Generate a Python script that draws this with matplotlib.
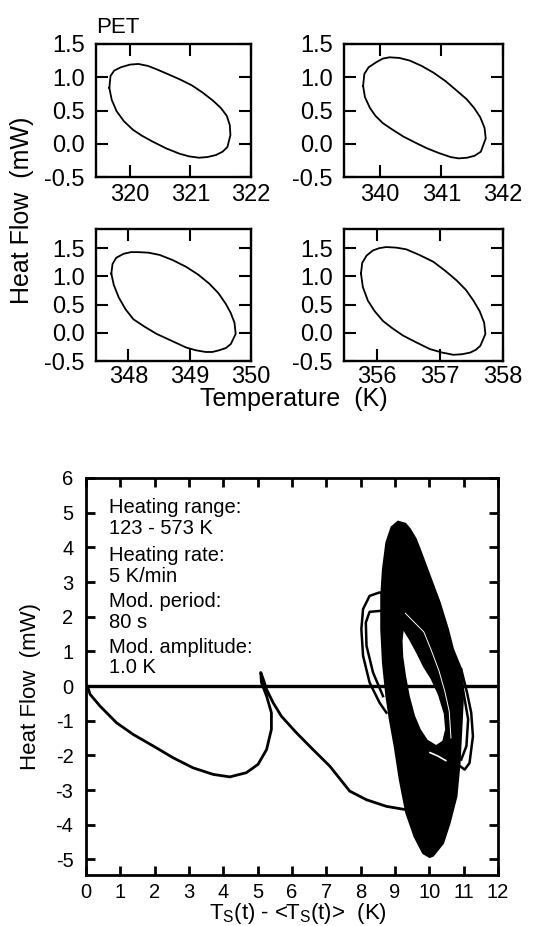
import matplotlib
matplotlib.use("Agg")
import matplotlib.pyplot as plt

plt.rcParams['font.family'] = ['Liberation Sans', 'DejaVu Sans']
plt.rcParams['axes.unicode_minus'] = False
plt.rcParams['mathtext.fontset'] = 'custom'
plt.rcParams['mathtext.rm'] = 'Liberation Sans'
plt.rcParams['mathtext.default'] = 'regular'

# ---- top: Lissajous loops at four temperatures (PET) ----
xlims = [(319.44, 322), (339.42, 342), (347.47, 350), (355.47, 358)]
xticks = [[320, 321, 322], [340, 341, 342], [348, 349, 350], [356, 357, 358]]
yticks = [-0.5, 0.0, 0.5, 1.0, 1.5]

loop1_x = [319.66, 319.68, 319.74, 319.85, 320.00, 320.14, 320.30, 320.44, 320.62, 320.82, 321.02, 321.20,
           321.37, 321.50, 321.60, 321.65, 321.66, 321.61, 321.53, 321.42, 321.28, 321.14, 320.98, 320.82,
           320.60, 320.38, 320.20, 320.05, 319.90, 319.78, 319.70, 319.66]
loop1_y = [0.84, 1.02, 1.10, 1.15, 1.19, 1.20, 1.17, 1.12, 1.05, 0.97, 0.88, 0.77,
           0.65, 0.54, 0.42, 0.28, 0.13, -0.05, -0.12, -0.17, -0.20, -0.21, -0.19, -0.15,
           -0.07, 0.03, 0.12, 0.21, 0.34, 0.49, 0.66, 0.84]

loop2_x = [339.73, 339.75, 339.82, 339.95, 340.05, 340.16, 340.32, 340.49, 340.68, 340.87, 341.07, 341.26,
           341.41, 341.53, 341.63, 341.70, 341.72, 341.64, 341.54, 341.42, 341.28, 341.15, 340.96, 340.77,
           340.57, 340.38, 340.21, 340.05, 339.93, 339.84, 339.76, 339.73]
loop2_y = [0.87, 1.05, 1.15, 1.23, 1.28, 1.30, 1.29, 1.25, 1.17, 1.07, 0.94, 0.79,
           0.67, 0.54, 0.40, 0.24, 0.08, -0.12, -0.18, -0.21, -0.22, -0.20, -0.14, -0.07,
           0.02, 0.11, 0.21, 0.31, 0.42, 0.54, 0.70, 0.87]

loop3_x = [347.72, 347.74, 347.80, 347.92, 348.04, 348.16, 348.33, 348.51, 348.72, 348.94, 349.14, 349.32,
           349.47, 349.59, 349.67, 349.73, 349.75, 349.67, 349.59, 349.48, 349.37, 349.26, 349.10, 348.94,
           348.70, 348.46, 348.26, 348.08, 347.95, 347.84, 347.76, 347.72]
loop3_y = [1.05, 1.22, 1.33, 1.40, 1.43, 1.43, 1.42, 1.38, 1.29, 1.17, 1.03, 0.87,
           0.70, 0.51, 0.35, 0.18, -0.02, -0.20, -0.27, -0.31, -0.34, -0.34, -0.31, -0.26,
           -0.14, -0.02, 0.11, 0.24, 0.42, 0.63, 0.85, 1.05]

loop4_x = [355.74, 355.76, 355.83, 355.93, 356.03, 356.14, 356.30, 356.46, 356.67, 356.89, 357.08, 357.26,
           357.41, 357.53, 357.63, 357.70, 357.72, 357.64, 357.57, 357.48, 357.35, 357.21, 357.03, 356.84,
           356.62, 356.41, 356.24, 356.09, 355.96, 355.85, 355.77, 355.74]
loop4_y = [1.05, 1.24, 1.37, 1.46, 1.50, 1.52, 1.51, 1.48, 1.38, 1.26, 1.10, 0.93,
           0.76, 0.57, 0.38, 0.18, -0.02, -0.23, -0.30, -0.35, -0.38, -0.39, -0.35, -0.29,
           -0.17, -0.05, 0.08, 0.21, 0.38, 0.57, 0.81, 1.05]

loops_x = [loop1_x, loop2_x, loop3_x, loop4_x]
loops_y = [loop1_y, loop2_y, loop3_y, loop4_y]

# ---- bottom: heat flow vs modulated temperature deviation ----
base_x = [0.12, 11.9]
base_y = [0.0, 0.0]

curve_x = [0.04, 0.12, 0.41, 0.89, 1.38, 1.96, 2.54, 3.12, 3.71, 4.19, 4.67, 5.01, 5.26, 5.40, 5.40, 5.26, 5.11, 5.09,
           5.18, 5.26, 5.45, 5.69, 6.13, 6.61, 7.10, 7.68, 8.17, 8.75, 9.28]
curve_y = [0.00, -0.24, -0.58, -1.06, -1.40, -1.73, -2.07, -2.36, -2.55, -2.62, -2.50, -2.26, -1.83, -1.25, -0.77, -0.29, 0.10, 0.39,
           0.15, -0.10, -0.48, -0.87, -1.35, -1.83, -2.31, -3.03, -3.28, -3.47, -3.56]

blob_x = [9.09, 9.30, 9.43, 9.60, 9.72, 10.01, 10.30, 10.54, 10.69, 10.93, 10.98, 10.93, 10.88, 10.79, 10.59, 10.40,
          10.11, 10.01, 9.82, 9.57, 9.33, 9.14, 8.99, 8.85, 8.75, 8.65, 8.60, 8.60, 8.65, 8.75, 8.90, 9.09]
blob_y = [4.74, 4.68, 4.53, 4.25, 3.95, 3.18, 2.41, 1.64, 1.06, 0.48, -0.29, -1.25, -2.22, -3.18, -3.95, -4.53,
          -4.89, -4.93, -4.82, -4.34, -3.66, -2.70, -1.73, -0.96, -0.29, 0.67, 1.64, 2.60, 3.37, 4.14, 4.58, 4.74]

hole_x = [9.25, 9.40, 9.62, 9.82, 10.04, 10.25, 10.42, 10.46, 10.38, 10.20, 9.95, 9.75, 9.58, 9.43, 9.32, 9.24, 9.22, 9.25]
hole_y = [1.59, 1.35, 0.95, 0.55, 0.20, -0.25, -0.80, -1.25, -1.58, -1.70, -1.55, -1.25, -0.85, -0.29, 0.30, 0.85, 1.30, 1.59]

ring_x = [9.30, 9.55, 9.84, 10.05, 10.28, 10.45, 10.58, 10.63]
ring_y = [2.10, 1.85, 1.56, 1.05, 0.44, -0.15, -0.73, -1.50]
gap_x = [10.02, 10.25, 10.48]
gap_y = [-1.92, -2.02, -2.15]

left_out_x = [8.70, 8.55, 8.26, 8.07, 8.02, 8.07, 8.26, 8.55, 8.75]
left_out_y = [2.62, 2.70, 2.60, 2.22, 1.64, 0.87, 0.10, -0.48, -0.77]
left_in_x = [8.70, 8.60, 8.26, 8.15, 8.17, 8.36, 8.65]
left_in_y = [2.17, 2.17, 2.14, 1.83, 1.16, 0.39, -0.29]

right_out_x = [10.93, 11.10, 11.22, 11.27, 11.17, 11.03, 10.88]
right_out_y = [0.48, -0.20, -0.77, -1.45, -2.22, -2.41, -2.30]
right_in_x = [10.95, 10.98, 11.13, 11.08, 10.93]
right_in_y = [0.20, -0.10, -0.96, -1.73, -2.12]

info_lines = ["Heating range:", "123 - 573 K", "Heating rate:", "5 K/min",
              "Mod. period:", "80 s", "Mod. amplitude:", "1.0 K"]
info_base = [513, 534, 561, 582, 607, 628, 653, 673]

fig = plt.figure(figsize=(5.46, 9.26), dpi=100)
W, H = 546.0, 926.0

def box(l, t, r, b):
    return [l / W, 1 - b / H, (r - l) / W, (b - t) / H]

small = [box(96, 44, 251, 177), box(344, 44, 503, 177),
         box(96, 229, 251, 361), box(344, 229, 503, 361)]

for i in range(4):
    ax = fig.add_axes(small[i])
    ax.plot(loops_x[i], loops_y[i], color='k', lw=1.3)
    ax.set_xlim(xlims[i])
    if i < 2:
        ax.set_ylim(-0.5, 1.5)
    else:
        ax.set_ylim(-0.5, 1.84)
    ax.set_xticks(xticks[i])
    ax.set_yticks(yticks)
    ax.set_yticklabels(["%.1f" % v for v in yticks])
    ax.tick_params(direction='in', top=True, right=True, labelsize=17, width=1.5, length=8.5)
    ax.tick_params(axis='x', pad=5 if i < 2 else 3.5)
    ax.tick_params(axis='y', pad=8)
    for s in ax.spines.values():
        s.set_linewidth(1.7)

fig.text(96 / W, 1 - 33 / H, "PET", fontsize=16, ha='left', va='baseline')
fig.text(22 / W, 1 - 210 / H, "Heat Flow  (mW)", fontsize=18, rotation=90, ha='center', va='center')
fig.text(294 / W, 1 - 406 / H, "Temperature  (K)", fontsize=18, ha='center', va='baseline')

ax = fig.add_axes(box(86, 478, 498, 875))
ax.plot(base_x, base_y, color='k', lw=2.4)
ax.plot(curve_x, curve_y, color='k', lw=2.0)
ax.fill(blob_x, blob_y, color='k', lw=1.5)
ax.fill(hole_x, hole_y, color='white', lw=0)
ax.plot(ring_x, ring_y, color='white', lw=0.7)
ax.plot(gap_x, gap_y, color='white', lw=1.2)
ax.plot(left_out_x, left_out_y, color='k', lw=1.8)
ax.plot(left_in_x, left_in_y, color='k', lw=1.8)
ax.plot(right_out_x, right_out_y, color='k', lw=1.8)
ax.plot(right_in_x, right_in_y, color='k', lw=1.8)
ax.set_xlim(0, 12)
ax.set_ylim(-5.45, 6)
ax.set_xticks(range(0, 13))
ax.set_yticks(range(-5, 7))
ax.tick_params(direction='in', top=True, right=True, labelsize=14.5, width=2, length=6.8)
ax.tick_params(axis='x', pad=6)
ax.tick_params(axis='y', pad=9)
for s in ax.spines.values():
    s.set_linewidth(2)

fig.text(31 / W, 1 - 687 / H, "Heat Flow  (mW)", fontsize=16, rotation=90, ha='center', va='center')
fig.text(298 / W, 1 - 919 / H, r"T$_\mathrm{S}$(t) - <T$_\mathrm{S}$(t)>  (K)", fontsize=16,
         ha='center', va='baseline')

for line, yb in zip(info_lines, info_base):
    fig.text(109 / W, 1 - yb / H, line, fontsize=14.5, ha='left', va='baseline')

fig.savefig("out.png", dpi=100)
